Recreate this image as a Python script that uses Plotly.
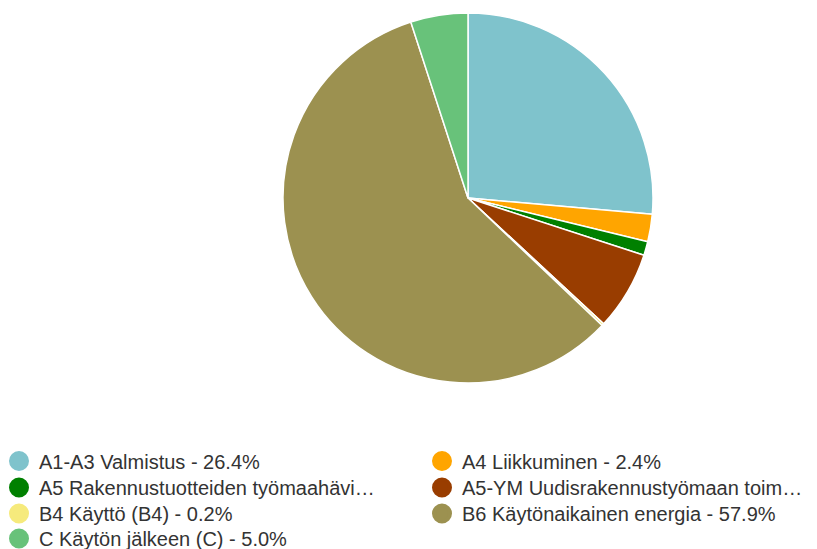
import plotly.graph_objects as go

labels = [
    "A1-A3 Valmistus - 26.4%",
    "A4 Liikkuminen - 2.4%",
    "A5 Rakennustuotteiden työmaahävi…",
    "A5-YM Uudisrakennustyömaan toim…",
    "B4 Käyttö (B4) - 0.2%",
    "B6 Käytönaikainen energia - 57.9%",
    "C Käytön jälkeen (C) - 5.0%",
]
values = [26.4, 2.4, 1.2, 6.9, 0.2, 57.9, 5.0]
colors = ["#7fc3cc", "#ffa500", "#008000", "#993d00", "#f6ea7c", "#9c9150", "#68c27a"]

# page body has an 8px margin, so the figure is sized to fit the 817x549 window
W, H = 809, 541
OFF = 8
col_x = [-9, 414]               # legend left edges (figure px) for the two columns
row_y = [461, 487.5, 513.5, 538.5]  # legend row centres (screen px)

fig = go.Figure()
fig.add_trace(go.Pie(
    labels=labels, values=values, sort=False, direction="clockwise", rotation=0,
    marker=dict(colors=colors, line=dict(color="white", width=1.5)),
    textinfo="none", hoverinfo="label", showlegend=False,
    domain=dict(x=[275 / W, 645 / W], y=[1 - 375 / H, 1 - 5 / H]),
))

legend_layouts = {}
for i, (lab, col) in enumerate(zip(labels, colors)):
    name = "legend" if i == 0 else f"legend{i + 1}"
    fig.add_trace(go.Scatter(
        x=[None], y=[None], mode="markers", name=lab, legend=name,
        marker=dict(symbol="circle", size=16, color=col, line=dict(color=col, width=4)),
        showlegend=True,
    ))
    r, c = divmod(i, 2)
    legend_layouts[name] = dict(
        orientation="v", x=col_x[c] / W, xanchor="left",
        y=1 - (row_y[r] - OFF) / H, yanchor="middle",
        font=dict(size=20, color="#333333", family="Liberation Sans, Arial, sans-serif"),
        itemsizing="trace", bgcolor="rgba(0,0,0,0)",
    )

fig.update_layout(
    width=W, height=H, margin=dict(l=0, r=0, t=0, b=0, autoexpand=False),
    paper_bgcolor="white", plot_bgcolor="white",
    xaxis=dict(visible=False), yaxis=dict(visible=False),
    font=dict(family="Liberation Sans, Arial, sans-serif", size=20, color="#333333"),
    **legend_layouts,
)
fig.write_html("out.html")
